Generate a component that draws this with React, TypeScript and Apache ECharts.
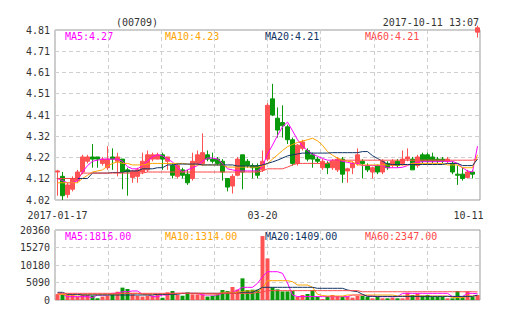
import React, { useEffect, useRef } from 'react';
import * as echarts from 'echarts';

// [open, close, low, high]
const kline: number[][] = [
  [4.15, 4.155, 4.04, 4.16], [4.13, 4.04, 4.02, 4.15], [4.045, 4.09, 4.03, 4.10], [4.07, 4.12, 4.06, 4.13],
  [4.11, 4.15, 4.10, 4.16], [4.15, 4.22, 4.14, 4.23], [4.20, 4.22, 4.19, 4.23], [4.22, 4.21, 4.17, 4.28],
  [4.22, 4.21, 4.17, 4.22], [4.19, 4.21, 4.18, 4.22], [4.17, 4.21, 4.16, 4.27], [4.22, 4.21, 4.16, 4.26],
  [4.20, 4.22, 4.13, 4.24], [4.21, 4.15, 4.07, 4.21], [4.16, 4.15, 4.04, 4.17], [4.125, 4.155, 4.10, 4.16],
  [4.13, 4.16, 4.10, 4.17], [4.15, 4.20, 4.14, 4.24], [4.16, 4.23, 4.15, 4.25], [4.21, 4.23, 4.20, 4.24],
  [4.21, 4.23, 4.21, 4.24], [4.23, 4.21, 4.16, 4.24], [4.20, 4.22, 4.16, 4.22], [4.18, 4.135, 4.12, 4.19],
  [4.13, 4.18, 4.12, 4.19], [4.16, 4.135, 4.12, 4.17], [4.14, 4.10, 4.09, 4.16], [4.12, 4.20, 4.11, 4.24],
  [4.19, 4.23, 4.18, 4.25], [4.19, 4.24, 4.18, 4.33], [4.23, 4.21, 4.20, 4.25], [4.21, 4.20, 4.19, 4.24],
  [4.21, 4.19, 4.18, 4.22], [4.20, 4.15, 4.11, 4.21], [4.12, 4.08, 4.06, 4.12], [4.085, 4.13, 4.05, 4.14],
  [4.135, 4.21, 4.13, 4.22], [4.23, 4.15, 4.07, 4.23], [4.20, 4.18, 4.17, 4.21], [4.18, 4.17, 4.12, 4.19],
  [4.18, 4.135, 4.12, 4.19], [4.16, 4.20, 4.15, 4.25], [4.21, 4.46, 4.20, 4.47], [4.49, 4.415, 4.41, 4.56],
  [4.40, 4.345, 4.31, 4.45], [4.38, 4.365, 4.31, 4.46], [4.36, 4.30, 4.28, 4.37], [4.30, 4.19, 4.18, 4.31],
  [4.19, 4.275, 4.18, 4.28], [4.26, 4.29, 4.25, 4.30], [4.25, 4.21, 4.20, 4.26], [4.23, 4.21, 4.17, 4.24],
  [4.21, 4.20, 4.19, 4.22], [4.17, 4.20, 4.16, 4.21], [4.19, 4.17, 4.14, 4.20], [4.17, 4.20, 4.16, 4.21],
  [4.16, 4.21, 4.15, 4.22], [4.21, 4.14, 4.10, 4.22], [4.155, 4.165, 4.10, 4.17], [4.17, 4.19, 4.14, 4.20],
  [4.19, 4.23, 4.18, 4.26], [4.20, 4.19, 4.12, 4.21], [4.18, 4.16, 4.15, 4.19], [4.15, 4.17, 4.12, 4.175],
  [4.18, 4.15, 4.14, 4.185], [4.15, 4.20, 4.14, 4.21], [4.19, 4.17, 4.16, 4.20], [4.18, 4.20, 4.17, 4.21],
  [4.20, 4.18, 4.17, 4.21], [4.19, 4.21, 4.18, 4.25], [4.21, 4.22, 4.20, 4.26], [4.21, 4.16, 4.16, 4.22],
  [4.18, 4.22, 4.17, 4.23], [4.23, 4.20, 4.19, 4.24], [4.23, 4.20, 4.19, 4.24], [4.22, 4.20, 4.19, 4.24],
  [4.21, 4.20, 4.19, 4.22], [4.21, 4.20, 4.19, 4.22], [4.20, 4.21, 4.19, 4.22], [4.19, 4.15, 4.14, 4.20],
  [4.14, 4.135, 4.09, 4.18], [4.14, 4.12, 4.11, 4.17], [4.125, 4.15, 4.12, 4.16], [4.15, 4.14, 4.12, 4.16],
  [4.80, 4.82, 4.775, 4.83],
];

const volumes: number[] = [
  1700, 1650, 1650, 1650, 1000, 1650, 1450, 1250, 500, 1000,
  1250, 1650, 2400, 3600, 3200, 1650, 1250, 1000, 1250, 1250,
  1650, 650, 2230, 2620, 1450, 1250, 2230, 1650, 1650, 1650,
  1000, 1250, 1650, 2900, 2620, 3780, 3000, 6300, 2900, 3000,
  3000, 18600, 12100, 3700, 3100, 2500, 2500, 2600, 970, 1450,
  1750, 2900, 970, 290, 1170, 1450, 1170, 970, 970, 680,
  1170, 1170, 970, 485, 970, 485, 485, 680, 485, 485,
  2130, 1450, 1940, 1260, 1450, 970, 970, 970, 485, 485,
  2620, 970, 2520, 970, 1450,
];

const ma5: number[] = [
  4.12, 4.11, 4.10, 4.10, 4.11, 4.15, 4.18, 4.20, 4.205, 4.21,
  4.21, 4.21, 4.21, 4.20, 4.175, 4.165, 4.165, 4.18, 4.20, 4.22,
  4.23, 4.225, 4.21, 4.197, 4.17, 4.15, 4.16, 4.17, 4.18, 4.20,
  4.215, 4.215, 4.21, 4.19, 4.165, 4.16, 4.155, 4.155, 4.155, 4.155,
  4.155, 4.175, 4.233, 4.275, 4.32, 4.36, 4.382, 4.342, 4.30, 4.27,
  4.25, 4.233, 4.223, 4.213, 4.205, 4.205, 4.205, 4.20, 4.195, 4.19,
  4.19, 4.18, 4.18, 4.18, 4.18, 4.18, 4.17, 4.17, 4.17, 4.172,
  4.18, 4.19, 4.195, 4.198, 4.198, 4.198, 4.198, 4.20, 4.20, 4.20,
  4.19, 4.17, 4.155, 4.15, 4.27,
];

const ma10: number[] = [
  4.10, 4.10, 4.10, 4.10, 4.10, 4.12, 4.135, 4.15, 4.155, 4.16,
  4.178, 4.19, 4.197, 4.19, 4.19, 4.183, 4.183, 4.183, 4.187, 4.19,
  4.19, 4.19, 4.19, 4.19, 4.19, 4.19, 4.187, 4.183, 4.183, 4.183,
  4.183, 4.183, 4.183, 4.183, 4.173, 4.173, 4.173, 4.173, 4.173, 4.173,
  4.173, 4.178, 4.19, 4.21, 4.23, 4.25, 4.268, 4.278, 4.287, 4.294,
  4.30, 4.307, 4.295, 4.275, 4.245, 4.228, 4.215, 4.205, 4.20, 4.197,
  4.183, 4.183, 4.183, 4.183, 4.183, 4.183, 4.183, 4.183, 4.183, 4.183,
  4.183, 4.19, 4.19, 4.19, 4.19, 4.19, 4.19, 4.19, 4.183, 4.183,
  4.183, 4.17, 4.17, 4.17, 4.23,
];

const ma20: number[] = [
  4.12, 4.12, 4.12, 4.12, 4.12, 4.12, 4.12, 4.145, 4.145, 4.145,
  4.145, 4.148, 4.148, 4.148, 4.155, 4.155, 4.155, 4.165, 4.165, 4.165,
  4.17, 4.17, 4.183, 4.183, 4.187, 4.187, 4.187, 4.187, 4.187, 4.183,
  4.183, 4.183, 4.183, 4.183, 4.183, 4.183, 4.178, 4.178, 4.178, 4.178,
  4.178, 4.183, 4.19, 4.197, 4.205, 4.215, 4.225, 4.23, 4.234, 4.238,
  4.238, 4.238, 4.238, 4.238, 4.238, 4.24, 4.24, 4.24, 4.24, 4.24,
  4.24, 4.245, 4.245, 4.226, 4.213, 4.20, 4.187, 4.185, 4.185, 4.185,
  4.185, 4.185, 4.185, 4.185, 4.185, 4.185, 4.185, 4.185, 4.19, 4.19,
  4.19, 4.18, 4.18, 4.18, 4.21,
];

const ma60: number[] = [
  4.12, 4.12, 4.12, 4.12, 4.12, 4.145, 4.145, 4.145, 4.145, 4.145,
  4.145, 4.145, 4.145, 4.145, 4.145, 4.145, 4.145, 4.145, 4.15, 4.15,
  4.15, 4.15, 4.15, 4.15, 4.15, 4.15, 4.15, 4.15, 4.15, 4.15,
  4.15, 4.15, 4.15, 4.15, 4.15, 4.15, 4.15, 4.15, 4.15, 4.15,
  4.15, 4.155, 4.165, 4.165, 4.165, 4.165, 4.173, 4.183, 4.19, 4.19,
  4.19, 4.19, 4.19, 4.19, 4.19, 4.205, 4.205, 4.205, 4.205, 4.205,
  4.205, 4.205, 4.205, 4.205, 4.205, 4.205, 4.205, 4.205, 4.205, 4.205,
  4.205, 4.205, 4.205, 4.205, 4.205, 4.205, 4.205, 4.205, 4.205, 4.205,
  4.205, 4.205, 4.205, 4.205, 4.21,
];

const volMa5: number[] = [
  1650, 1650, 970, 970, 970, 970, 970, 680, 1450, 1450,
  1450, 1940, 1940, 2420, 2420, 2620, 2620, 1650, 1650, 970,
  970, 1450, 1450, 1940, 1940, 1940, 1940, 1940, 1940, 1450,
  1450, 1450, 1450, 1940, 2230, 2230, 2910, 3690, 3690, 3690,
  4850, 6780, 8230, 8230, 8230, 7750, 4940, 1450, 1000, 1000,
  1000, 1000, 1000, 970, 970, 970, 970, 970, 970, 1450,
  1450, 1450, 1200, 1200, 970, 970, 970, 970, 970, 1940,
  1940, 1940, 1940, 1940, 1940, 1940, 1940, 1940, 1940, 970,
  970, 970, 1940, 1940, 1816,
];

const volMa10: number[] = [
  1650, 1650, 1450, 1450, 1450, 1450, 1650, 1650, 1650, 1650,
  1650, 1650, 1650, 1940, 1940, 1940, 1940, 1650, 1650, 1650,
  1650, 1650, 1650, 1650, 1940, 1940, 1940, 1940, 1940, 1940,
  1750, 1750, 1750, 2230, 2230, 2230, 2230, 2420, 2620, 2620,
  2620, 3400, 5620, 5620, 5620, 5620, 5620, 5330, 4360, 4360,
  4360, 3690, 1650, 1300, 1160, 1160, 1160, 1160, 1450, 1450,
  1450, 1450, 1450, 1450, 1450, 1450, 1450, 1450, 1160, 1160,
  1160, 1160, 1160, 1160, 1160, 1160, 1160, 1160, 1160, 700,
  700, 700, 1160, 1160, 1314,
];

const volMa20: number[] = [
  2230, 2230, 1650, 1650, 1650, 1450, 1450, 1450, 1450, 1450,
  1450, 1450, 1450, 1450, 1450, 1450, 1450, 1450, 1450, 1450,
  1650, 1650, 1650, 1650, 1650, 1940, 1940, 1940, 1940, 1940,
  1940, 1940, 1940, 1940, 1940, 1940, 1940, 2230, 2230, 2230,
  2910, 3690, 3690, 3690, 3690, 3690, 3690, 3690, 3690, 3690,
  3690, 3690, 3400, 3400, 3400, 3400, 3400, 3400, 2910, 2620,
  2420, 1650, 1050, 1050, 1050, 1050, 1050, 1050, 1050, 1050,
  1050, 1050, 1050, 1050, 1050, 1050, 1050, 1050, 1050, 1050,
  1050, 1050, 1050, 1050, 1409,
];

const volMa60: number[] = [
  1940, 1940, 1940, 1940, 1940, 1940, 1940, 1940, 1940, 1940,
  1940, 1940, 1940, 1940, 1940, 1940, 1940, 1940, 1940, 1940,
  1940, 1940, 1940, 1940, 1940, 1940, 1940, 1940, 1940, 1940,
  1940, 1940, 1940, 1940, 1940, 1940, 1940, 1940, 1940, 1940,
  2230, 2230, 2720, 2720, 2720, 2720, 2720, 2720, 2720, 2720,
  2720, 2720, 2720, 2720, 2720, 2720, 2720, 2720, 2720, 2720,
  2720, 2400, 2400, 2400, 2400, 2400, 2400, 2400, 2400, 2400,
  2400, 2400, 2400, 2400, 2400, 2400, 2400, 2400, 2400, 2400,
  2400, 2400, 2400, 2400, 2347,
];

const categories: string[] = kline.map((_, i) => String(i));
const xTickLabels: Record<number, string> = { 0: '2017-01-17', 41: '03-20', 84: '10-11' };
const priceTickLabels = ['4.02', '4.12', '4.22', '4.32', '4.41', '4.51', '4.61', '4.71', '4.81'];
const volTickLabels = ['0', '5090', '10180', '15270', '20360'];
const stockCode = '(00709)';
const timeStamp = '2017-10-11 13:07';

const RED = '#ff5252';
const GREEN = '#0a990a';
const C_MA5 = '#f0f';
const C_MA10 = '#ffa500';
const C_MA20 = '#0f3464';
const C_MA60 = '#ff4a4a';
const FONT = '"DejaVu Sans Mono", monospace';

const priceMin = 4.02;
const priceMax = 4.81;
const priceStep = (priceMax - priceMin) / 8;

export default function App() {
  const ref = useRef<HTMLDivElement>(null);
  useEffect(() => {
    if (!ref.current) return;
    const chart = echarts.init(ref.current, undefined, { renderer: 'svg' });
    const dashed = { show: true, lineStyle: { color: '#cfcfcf', type: [4, 3] as any, width: 1 } };
    const mkLine = (name: string, data: number[], color: string, x: number, y: number) => ({
      name, type: 'line', data, xAxisIndex: x, yAxisIndex: y, showSymbol: false, symbol: 'none',
      lineStyle: { color, width: 1 }, itemStyle: { color }, z: 3,
    });
    const legendTexts = (items: { n: string; d: number[]; c: string }[], y: number) =>
      items.map((it, k) => ({
        type: 'text', x: 65 + k * 100, y,
        style: { text: `${it.n}:${it.d[it.d.length - 1].toFixed(2)}`, fill: it.c, font: `10px ${FONT}`, align: 'left', verticalAlign: 'middle' },
      }));
    chart.setOption({
      animation: false,
      backgroundColor: '#fff',
      grid: [
        { left: 55, top: 30, width: 425, height: 170, show: true, borderColor: '#999', borderWidth: 1, backgroundColor: 'transparent' },
        { left: 55, top: 230, width: 425, height: 70, show: true, borderColor: '#999', borderWidth: 1, backgroundColor: 'transparent' },
      ],
      xAxis: [
        {
          type: 'category', gridIndex: 0, data: categories, boundaryGap: true,
          axisLine: { show: false }, axisTick: { show: false }, splitLine: { show: false },
          axisLabel: {
            margin: 10,
            interval: (i: number) => i in xTickLabels,
            formatter: (_v: string, i: number) => (i === 84 ? `{r|${xTickLabels[i]}}` : `{n|${xTickLabels[i]}}`),
            rich: {
              n: { fontFamily: FONT, fontSize: 10, color: '#333' },
              r: { fontFamily: FONT, fontSize: 10, color: '#333', padding: [0, 18, 0, 0] },
            },
          },
        },
        {
          type: 'category', gridIndex: 1, data: categories, boundaryGap: true,
          axisLine: { show: false }, axisTick: { show: false }, axisLabel: { show: false }, splitLine: { show: false },
        },
        {
          type: 'value', gridIndex: 0, min: 0, max: 8, interval: 1,
          axisLine: { show: false }, axisTick: { show: false }, axisLabel: { show: false }, splitLine: dashed,
        },
        {
          type: 'value', gridIndex: 1, min: 0, max: 8, interval: 1,
          axisLine: { show: false }, axisTick: { show: false }, axisLabel: { show: false }, splitLine: dashed,
        },
      ],
      yAxis: [
        {
          type: 'value', gridIndex: 0, min: priceMin, max: priceMax, interval: priceStep,
          axisLine: { show: false }, axisTick: { show: false }, splitLine: dashed,
          axisLabel: {
            margin: 5, fontFamily: FONT, fontSize: 10, color: '#333',
            formatter: (v: number) => priceTickLabels[Math.round((v - priceMin) / priceStep)] ?? '',
          },
        },
        {
          type: 'value', gridIndex: 1, min: 0, max: 20360, interval: 5090,
          axisLine: { show: false }, axisTick: { show: false }, splitLine: dashed,
          axisLabel: {
            margin: 5, fontFamily: FONT, fontSize: 10, color: '#333',
            formatter: (v: number) => volTickLabels[Math.round(v / 5090)] ?? '',
          },
        },
      ],
      series: [
        {
          type: 'candlestick', xAxisIndex: 0, yAxisIndex: 0, data: kline, barWidth: 4, clip: true,
          itemStyle: { color: RED, color0: GREEN, borderColor: RED, borderColor0: GREEN, borderWidth: 1 },
          z: 2,
        },
        mkLine('MA5', ma5, C_MA5, 0, 0),
        mkLine('MA10', ma10, C_MA10, 0, 0),
        mkLine('MA20', ma20, C_MA20, 0, 0),
        mkLine('MA60', ma60, C_MA60, 0, 0),
        {
          type: 'bar', xAxisIndex: 1, yAxisIndex: 1, barWidth: 4,
          data: volumes.map((v, i) => ({ value: v, itemStyle: { color: kline[i][1] >= kline[i][0] ? RED : GREEN } })),
          z: 2,
        },
        mkLine('VMA5', volMa5, C_MA5, 1, 1),
        mkLine('VMA10', volMa10, C_MA10, 1, 1),
        mkLine('VMA20', volMa20, C_MA20, 1, 1),
        mkLine('VMA60', volMa60, C_MA60, 1, 1),
      ],
      graphic: [
        { type: 'text', x: 137, y: 22, style: { text: stockCode, fill: '#333', font: `10px ${FONT}`, align: 'center', verticalAlign: 'middle' } },
        { type: 'text', x: 479, y: 22, style: { text: timeStamp, fill: '#333', font: `10px ${FONT}`, align: 'right', verticalAlign: 'middle' } },
        ...legendTexts([
          { n: 'MA5', d: ma5, c: C_MA5 }, { n: 'MA10', d: ma10, c: C_MA10 },
          { n: 'MA20', d: ma20, c: C_MA20 }, { n: 'MA60', d: ma60, c: C_MA60 },
        ], 36.5),
        ...legendTexts([
          { n: 'MA5', d: volMa5, c: C_MA5 }, { n: 'MA10', d: volMa10, c: C_MA10 },
          { n: 'MA20', d: volMa20, c: C_MA20 }, { n: 'MA60', d: volMa60, c: C_MA60 },
        ], 236.5),
      ],
    });
    return () => chart.dispose();
  }, []);
  return <div ref={ref} style={{ position: 'absolute', left: 0, top: 0, width: 505, height: 330 }} />;
}
